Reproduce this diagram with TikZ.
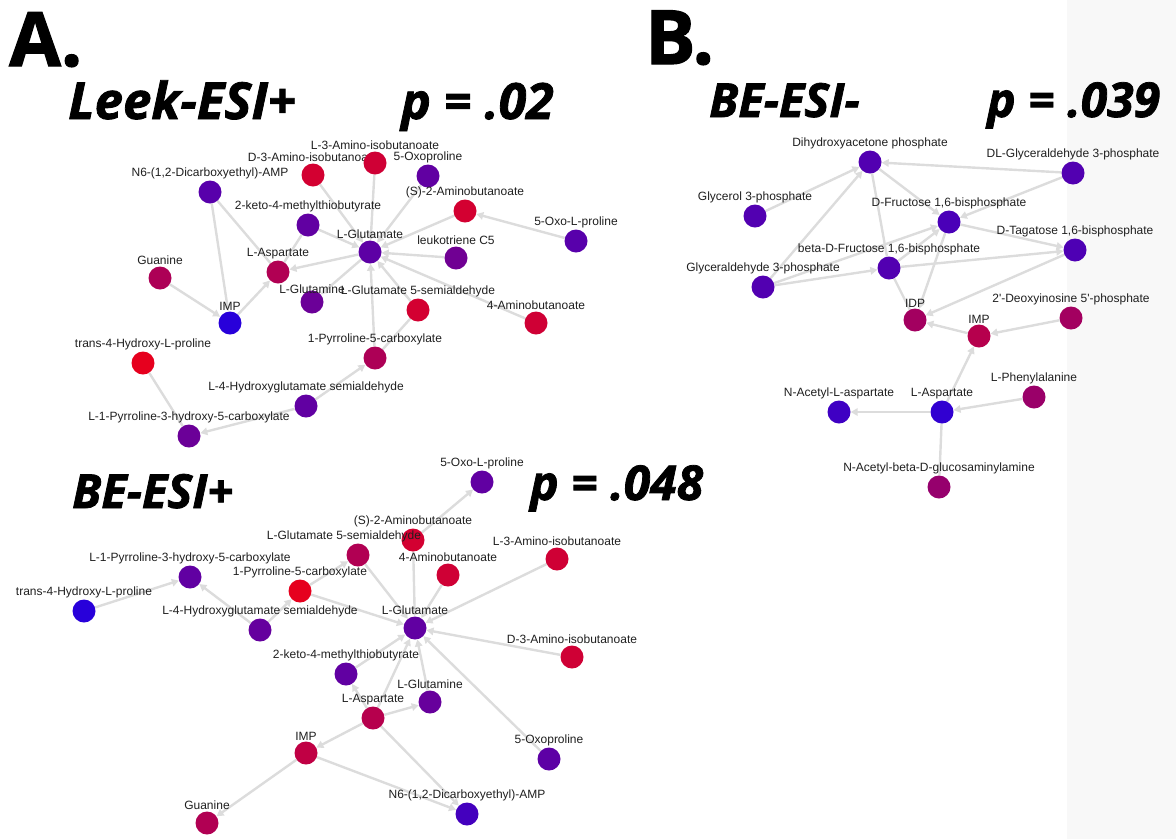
\documentclass[tikz,border=0pt]{standalone}
\usepackage{fontspec}
\setmainfont{Liberation Sans}
\newfontfamily\headfont{Open Sans}[BoldFeatures={FakeBold=1.6},
  BoldItalicFeatures={FakeBold=1.6}]
\usetikzlibrary{arrows.meta}
\definecolor{hot}{RGB}{230,0,30}
\definecolor{cold}{RGB}{40,0,218}
\definecolor{edgegray}{RGB}{220,220,220}
\definecolor{stripgray}{RGB}{248,248,248}
\pgfdeclarelayer{bg}
\pgfsetlayers{bg,main}
\tikzset{x=1pt, y=-1pt,
  met/.style={circle, inner sep=0pt, minimum size=23pt,
    fill=hot!#1!cold},                % node colour: % of red
  every label/.style={font=\fontsize{12}{14}\selectfont,
    inner sep=1pt, text=black!88},
  panel/.style={font=\headfont\bfseries\fontsize{75}{75}\selectfont,
    inner sep=0pt, anchor=base west},
  head/.style={font=\headfont\bfseries\itshape\fontsize{#1}{#1}\selectfont,
    inner sep=0pt, anchor=base west},
  every edge/.style={                 % links between metabolites
    draw=edgegray, line width=2.4pt,
    -{Triangle[length=7pt,width=7.5pt]}}}

\begin{document}
\begin{tikzpicture}
  \useasboundingbox (0,0) rectangle (1176,839);

  % titles
  \node[panel] (ta) at (9,66) {A.};
  \node[panel] (tb) at (645,64) {B.};
  \node[head=51] (tleek) at (68,119) {Leek-ESI+};
  \node[head=50] (pleek) at (401,119) {p = .02};
  \node[head=47] (tpos) at (72,508) {BE-ESI+};
  \node[head=48] (ppos) at (530,500) {p = .048};
  \node[head=47] (tneg) at (709,117) {BE-ESI-};
  \node[head=48] (pneg) at (987,117) {p = .039};

  % Leek-ESI+
  \node[met=25, label=above:{N6-(1,2-Dicarboxyethyl)-AMP}] (lnsix) at (210,192) {};
  \node[met=90, label=above:{D-3-Amino-isobutanoate}] (ldami) at (313,175) {};
  \node[met=88, label=above:{L-3-Amino-isobutanoate}] (llami) at (375,163) {};
  \node[met=30, label=above:{5-Oxoproline}] (loxo) at (428,176) {};
  \node[met=30, label=above:{2-keto-4-methylthiobutyrate}] (lketo) at (308,225) {};
  \node[met=90, label=above:{(S)-2-Aminobutanoate}] (lsamb) at (465,211) {};
  \node[met=25, label=above:{5-Oxo-L-proline}] (loxop) at (576,241) {};
  \node[met=28, label=above:{L-Glutamate}] (lglu) at (370,252) {};
  \node[met=38, label=above:{leukotriene C5}] (lleuk) at (456,258) {};
  \node[met=72, label=above:{L-Aspartate}] (lasp) at (278,272) {};
  \node[met=70, label=above:{Guanine}] (lguan) at (160,278) {};
  \node[met=35, label={[yshift=-5pt]above:{L-Glutamine}}] (lgln) at (312,302) {};
  \node[met=90, label=above:{L-Glutamate 5-semialdehyde}] (lsemi) at (418,310) {};
  \node[met=88, label=above:{4-Aminobutanoate}] (lgaba) at (536,323) {};
  \node[met=0, label=above:{IMP}] (limp) at (230,323) {};
  \node[met=100, label=above:{trans-4-Hydroxy-L-proline}] (ltrans) at (143,363) {};
  \node[met=70, label=above:{1-Pyrroline-5-carboxylate}] (lpyr) at (375,358) {};
  \node[met=30, label=above:{L-4-Hydroxyglutamate semialdehyde}] (lhyg) at (306,406) {};
  \node[met=35, label=above:{L-1-Pyrroline-3-hydroxy-5-carboxylate}] (lpyrh) at (189,436) {};

  % BE-ESI+
  \node[met=30, label=above:{5-Oxo-L-proline}] (poxop) at (482,482) {};
  \node[met=90, label=above:{(S)-2-Aminobutanoate}] (psamb) at (413,540) {};
  \node[met=72, label={[xshift=-14pt]above:{L-Glutamate 5-semialdehyde}}] (psemi) at (358,555) {};
  \node[met=88, label=above:{4-Aminobutanoate}] (pgaba) at (448,575) {};
  \node[met=88, label=above:{L-3-Amino-isobutanoate}] (plami) at (557,559) {};
  \node[met=30, label=above:{L-Glutamate}] (pglu) at (415,628) {};
  \node[met=88, label=above:{D-3-Amino-isobutanoate}] (pdami) at (572,657) {};
  \node[met=30, label=above:{L-1-Pyrroline-3-hydroxy-5-carboxylate}] (ppyrh) at (190,577) {};
  \node[met=0, label=above:{trans-4-Hydroxy-L-proline}] (ptrans) at (84,611) {};
  \node[met=100, label=above:{1-Pyrroline-5-carboxylate}] (ppyr) at (300,591) {};
  \node[met=32, label=above:{L-4-Hydroxyglutamate semialdehyde}] (phyg) at (260,630) {};
  \node[met=30, label=above:{2-keto-4-methylthiobutyrate}] (pketo) at (346,674) {};
  \node[met=33, label=above:{L-Glutamine}] (pgln) at (430,702) {};
  \node[met=75, label=above:{L-Aspartate}] (pasp) at (373,718) {};
  \node[met=80, label=above:{IMP}] (pimp) at (306,753) {};
  \node[met=28, label=above:{5-Oxoproline}] (poxo) at (549,759) {};
  \node[met=72, label=above:{Guanine}] (pguan) at (207,823) {};
  \node[met=15, label=above:{N6-(1,2-Dicarboxyethyl)-AMP}] (pnsix) at (467,814) {};

  % BE-ESI-
  \node[met=22, label=above:{Dihydroxyacetone phosphate}] (ndhap) at (870,162) {};
  \node[met=22, label=above:{Glycerol 3-phosphate}] (ngly) at (755,216) {};
  \node[met=18, label=above:{D-Fructose 1,6-bisphosphate}] (nfru) at (949,222) {};
  \node[met=22, label=above:{beta-D-Fructose 1,6-bisphosphate}] (nbeta) at (889,268) {};
  \node[met=22, label=above:{Glyceraldehyde 3-phosphate}] (nga) at (763,287) {};
  \node[met=65, label=above:{IDP}] (nidp) at (915,320) {};
  \node[met=22, label=above:{DL-Glyceraldehyde 3-phosphate}] (ndlga) at (1073,173) {};
  \node[met=20, label=above:{D-Tagatose 1,6-bisphosphate}] (ntag) at (1075,250) {};
  \node[met=65, label=above:{2\textquotesingle-Deoxyinosine 5\textquotesingle-phosphate}] (ndeoxy) at (1071,318) {};
  \node[met=75, label=above:{IMP}] (nimp) at (979,336) {};
  \node[met=60, label=above:{L-Phenylalanine}] (nphe) at (1034,397) {};
  \node[met=5, label=above:{L-Aspartate}] (nasp) at (942,412) {};
  \node[met=12, label=above:{N-Acetyl-L-aspartate}] (nacasp) at (839,412) {};
  \node[met=58, label=above:{N-Acetyl-beta-D-glucosaminylamine}] (nacglc) at (939,487) {};

  \begin{pgfonlayer}{bg}
  \fill[stripgray] (1067,0) rectangle (1176,839);

  \draw (lnsix) edge (limp);
  \draw (lnsix) edge[-] (lasp);
  \draw (lguan) edge (limp);
  \draw (limp) edge (lasp);
  \draw (lketo) edge[-] (lasp);
  \draw (lketo) edge (lglu);
  \draw (lglu) edge (lasp);
  \draw (lglu) edge (lgln);
  \draw (ldami) edge (lglu);
  \draw (llami) edge (lglu);
  \draw (loxo) edge (lglu);
  \draw (lsamb) edge (lglu);
  \draw (loxop) edge (lsamb);
  \draw (lleuk) edge (lglu);
  \draw (lgaba) edge (lglu);
  \draw (lsemi) edge (lglu);
  \draw (lsemi) edge[-] (lpyr);
  \draw (lpyr) edge (lglu);
  \draw (lhyg) edge (lpyr);
  \draw (lhyg) edge (lpyrh);
  \draw (ltrans) edge[-] (lpyrh);

  \draw (psamb) edge (poxop);
  \draw (psamb) edge (pglu);
  \draw (psemi) edge (pglu);
  \draw (ppyr) edge (psemi);
  \draw (ppyr) edge (pglu);
  \draw (pgaba) edge (pglu);
  \draw (plami) edge (pglu);
  \draw (pdami) edge (pglu);
  \draw (ptrans) edge (ppyrh);
  \draw (phyg) edge (ppyrh);
  \draw (phyg) edge (ppyr);
  \draw (pketo) edge (pglu);
  \draw (pasp) edge (pketo);
  \draw (pasp) edge (pglu);
  \draw (pgln) edge (pglu);
  \draw (poxo) edge (pglu);
  \draw (pasp) edge (pgln);
  \draw (pasp) edge (pimp);
  \draw (pasp) edge (pnsix);
  \draw (pimp) edge (pnsix);
  \draw (pimp) edge (pguan);

  \draw (ngly) edge (ndhap);
  \draw (nga) edge (ndhap);
  \draw (nga) edge (nbeta);
  \draw (nga) edge (nfru);
  \draw (ndhap) edge (nfru);
  \draw (ndhap) edge[-] (nbeta);
  \draw (ndlga) edge (ndhap);
  \draw (ndlga) edge (nfru);
  \draw (nfru) edge (ntag);
  \draw (nbeta) edge (ntag);
  \draw (nbeta) edge (nfru);
  \draw (ntag) edge (nidp);
  \draw (nfru) edge (nidp);
  \draw (nbeta) edge[-] (nidp);
  \draw (nimp) edge (nidp);
  \draw (ndeoxy) edge (nimp);
  \draw (nasp) edge (nimp);
  \draw (nphe) edge (nasp);
  \draw (nasp) edge (nacasp);
  \draw (nacglc) edge[-] (nasp);
  \end{pgfonlayer}
\end{tikzpicture}
\end{document}
